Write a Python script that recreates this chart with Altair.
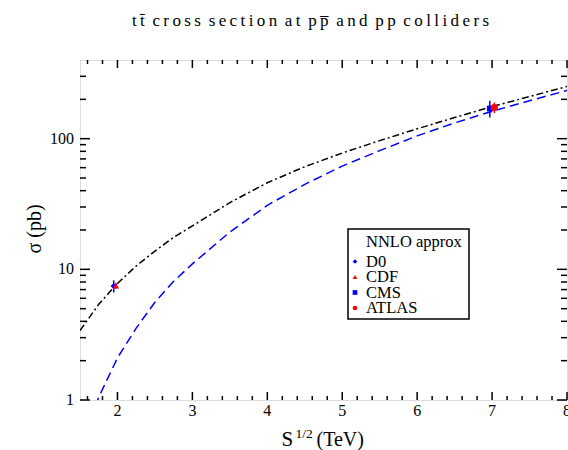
import altair as alt
import pandas as pd

# ---------------- data ----------------
energy = [1.5, 1.75, 2.0, 2.25, 2.5, 2.75, 3.0, 3.5, 4.0, 4.5, 5.0, 5.5, 6.0, 6.5, 7.0, 7.5, 8.0]
sigma_ppbar = [3.4, 5.4, 7.8, 10.6, 13.8, 17.6, 21.5, 32.4, 46.0, 61.0, 77.6, 96.6, 119.0, 145.0, 176.0, 210.0, 251.0]
sigma_pp = [0.45, 1.05, 2.1, 3.55, 5.6, 8.1, 11.0, 19.3, 30.9, 44.7, 61.7, 81.0, 105.0, 132.0, 162.0, 195.0, 234.0]

exp_names = ["D0", "CDF", "CMS", "ATLAS"]
exp_energy = [1.95, 1.98, 6.97, 7.03]
exp_sigma = [7.45, 7.5, 170.0, 173.0]
exp_err = [0.8, 0.4, 25.0, 16.0]

x_major = [2, 3, 4, 5, 6, 7, 8]
x_minor = [1.6, 1.8, 2.2, 2.4, 2.6, 2.8, 3.2, 3.4, 3.6, 3.8, 4.2, 4.4, 4.6, 4.8,
           5.2, 5.4, 5.6, 5.8, 6.2, 6.4, 6.6, 6.8, 7.2, 7.4, 7.6, 7.8]
y_major = [1, 10, 100]
y_minor = [2, 3, 4, 5, 6, 7, 8, 9, 20, 30, 40, 50, 60, 70, 80, 90, 200, 300]

title_words = ["tt\u0304", "cross", "section", "at", "pp\u0305", "and", "pp", "colliders"]

# ---------------- styles ----------------
W, H = 487, 340
SERIF = "Liberation Serif"
style_color = {"D0": "#0000ff", "CDF": "#ff0000", "CMS": "#0000ff", "ATLAS": "#ff0000"}
style_shape = {"D0": "diamond", "CDF": "triangle-up", "CMS": "square", "ATLAS": "circle"}
style_size = {"D0": 40, "CDF": 40, "CMS": 35, "ATLAS": 50}

xs = alt.Scale(domain=[1.5, 8], nice=False, zero=False)
ys = alt.Scale(type="log", domain=[1, 400], nice=False)

curves = pd.DataFrame({"E": energy, "ppbar": sigma_ppbar, "pp": sigma_pp})
exp = pd.DataFrame({"name": exp_names, "E": exp_energy, "s": exp_sigma, "err": exp_err})
exp["lo"] = exp["s"] - exp["err"]
exp["hi"] = exp["s"] + exp["err"]
exp["color"] = exp["name"].map(style_color)
exp["shape"] = exp["name"].map(style_shape)
exp["size"] = exp["name"].map(style_size)

one = pd.DataFrame({"a": [0]})

# tick labels as text through the scales
xlab = alt.Chart(pd.DataFrame({"E": x_major})).mark_text(
    font=SERIF, fontSize=16, baseline="top", align="center", color="black", dy=3
).encode(x=alt.X("E:Q", scale=xs, axis=None), y=alt.value(H), text=alt.Text("E:Q", format="d"))
ylab = alt.Chart(pd.DataFrame({"s": y_major})).mark_text(
    font=SERIF, fontSize=16, baseline="middle", align="right", color="black", dx=-6
).encode(y=alt.Y("s:Q", scale=ys, axis=None), x=alt.value(0), text=alt.Text("s:Q", format="d"))

line_ppbar = alt.Chart(curves).mark_line(
    color="black", strokeWidth=1.5, strokeDash=[7, 3, 2, 3], clip=True
).encode(x=alt.X("E:Q", scale=xs, axis=None), y=alt.Y("ppbar:Q", scale=ys, axis=None))

line_pp = alt.Chart(curves).mark_line(
    color="#0000ff", strokeWidth=1.5, strokeDash=[9, 5], clip=True
).encode(x=alt.X("E:Q", scale=xs, axis=None), y=alt.Y("pp:Q", scale=ys, axis=None))

errbars = alt.Chart(exp).mark_rule(strokeWidth=1.5).encode(
    x=alt.X("E:Q", scale=xs, axis=None),
    y=alt.Y("lo:Q", scale=ys, axis=None),
    y2="hi:Q",
    color=alt.Color("color:N", scale=None),
)

points = alt.Chart(exp).mark_point(filled=True, opacity=1).encode(
    x=alt.X("E:Q", scale=xs, axis=None),
    y=alt.Y("s:Q", scale=ys, axis=None),
    color=alt.Color("color:N", scale=None),
    shape=alt.Shape("shape:N", scale=None),
    size=alt.Size("size:Q", scale=None),
)

# inward ticks
def xticks(vals, length):
    d = pd.DataFrame({"E": vals})
    bottom = alt.Chart(d).mark_rule(color="black", strokeWidth=1.5).encode(
        x=alt.X("E:Q", scale=xs, axis=None), y=alt.value(H), y2=alt.value(H - length))
    top = alt.Chart(d).mark_rule(color="black", strokeWidth=1.5).encode(
        x=alt.X("E:Q", scale=xs, axis=None), y=alt.value(0), y2=alt.value(length))
    return [bottom, top]

def yticks(vals, length):
    d = pd.DataFrame({"s": vals})
    left = alt.Chart(d).mark_rule(color="black", strokeWidth=1.5).encode(
        y=alt.Y("s:Q", scale=ys, axis=None), x=alt.value(0), x2=alt.value(length))
    right = alt.Chart(d).mark_rule(color="black", strokeWidth=1.5).encode(
        y=alt.Y("s:Q", scale=ys, axis=None), x=alt.value(W), x2=alt.value(W - length))
    return [left, right]

tick_layers = xticks(x_major, 8) + xticks(x_minor, 4) + yticks(y_major, 10) + yticks(y_minor, 6)

# legend box (manual)
LX0, LY0, LX1, LY1 = 268, 169, 389, 259
legend_box = alt.Chart(one).mark_rect(fill="white", stroke="black", strokeWidth=1.5).encode(
    x=alt.value(LX0), x2=alt.value(LX1), y=alt.value(LY0), y2=alt.value(LY1))
legend_title = alt.Chart(one).mark_text(
    text="NNLO approx", font=SERIF, fontSize=16.5, align="left", baseline="middle", color="black"
).encode(x=alt.value(LX0 + 18), y=alt.value(LY0 + 13))

leg = pd.DataFrame({"name": exp_names})
leg["i"] = range(len(leg))
leg["py"] = LY0 + 32.5 + 15.5 * leg["i"]
leg["color"] = leg["name"].map(style_color)
leg["shape"] = leg["name"].map(style_shape)
legend_sym = alt.Chart(leg).mark_point(filled=True, opacity=1, size=22).encode(
    x=alt.value(LX0 + 7), y=alt.Y("py:Q", scale=None, axis=None),
    color=alt.Color("color:N", scale=None), shape=alt.Shape("shape:N", scale=None))
legend_txt = alt.Chart(leg).mark_text(
    font=SERIF, fontSize=16.5, align="left", baseline="middle", color="black"
).encode(x=alt.value(LX0 + 18), y=alt.Y("py:Q", scale=None, axis=None), text="name:N")

# title text with tracked letters (thin spaces between letter clusters)
def clusters(word):
    out = []
    for ch in word:
        if ch in "\u0304\u0305" and out:
            out[-1] += ch
        else:
            out.append(ch)
    return out

title_text = " \u2009".join("\u2009".join(clusters(w)) for w in title_words)

title = alt.Chart(one).mark_text(
    text=title_text, font=SERIF, fontSize=17, align="center", baseline="alphabetic", color="black"
).encode(x=alt.value(230.5), y=alt.value(-34))

ytitle = alt.Chart(one).mark_text(
    text="\u03c3 (pb)", font=SERIF, fontSize=20, angle=270, align="center",
    baseline="middle", color="black"
).encode(x=alt.value(-45), y=alt.value(169))

xt_S = alt.Chart(one).mark_text(
    text="S", font=SERIF, fontSize=21, align="left", baseline="alphabetic", color="black"
).encode(x=alt.value(201.5), y=alt.value(386))
xt_sup = alt.Chart(one).mark_text(
    text="1/2", font=SERIF, fontSize=13.5, align="left", baseline="alphabetic", color="black"
).encode(x=alt.value(215.5), y=alt.value(378))
xt_unit = alt.Chart(one).mark_text(
    text="(TeV)", font=SERIF, fontSize=20, align="left", baseline="alphabetic", color="black"
).encode(x=alt.value(236.5), y=alt.value(386))

chart = alt.layer(
    line_ppbar, line_pp, *tick_layers, errbars, points, xlab, ylab,
    legend_box, legend_title, legend_sym, legend_txt,
    title, ytitle, xt_S, xt_sup, xt_unit,
).properties(
    width=W, height=H,
    autosize=alt.AutoSizeParams(type="none"),
    padding={"left": 80, "top": 60, "right": 1, "bottom": 50},
).configure_view(
    stroke="black", strokeWidth=2, fill="white"
).configure(background="white")

chart.save("out.html", embed_options={"renderer": "svg", "actions": False})
